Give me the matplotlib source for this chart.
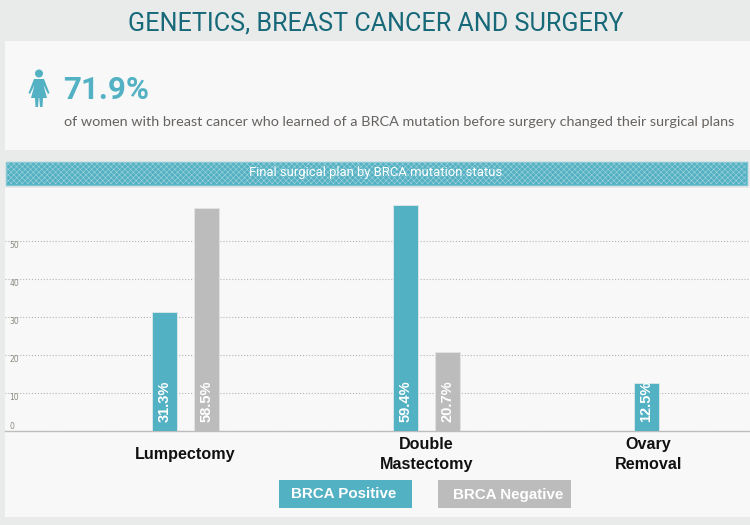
import matplotlib
matplotlib.use('Agg')
import matplotlib.pyplot as plt
from matplotlib.patches import Rectangle, Circle, Polygon

categories = ['Lumpectomy', 'Double\nMastectomy', 'Ovary\nRemoval']
positive = [31.3, 59.4, 12.5]
negative = [58.5, 20.7, None]
yticks = [0, 10, 20, 30, 40, 50]

TEAL = '#52b1c3'
GREY = '#bcbcbc'
BOLD = 'Liberation Sans'
W, H = 750, 525

fig = plt.figure(figsize=(7.5, 5.25), dpi=100, facecolor='#e9ebea')

# background layer in pixel coordinates
bg = fig.add_axes([0, 0, 1, 1])
bg.set_xlim(0, W)
bg.set_ylim(H, 0)
bg.axis('off')
bg.add_patch(Rectangle((5, 41), 745, 109, fc='#f8f8f8', ec='none'))
bg.add_patch(Rectangle((5, 188), 745, 329, fc='#f8f8f8', ec='none'))
plt.rcParams['hatch.linewidth'] = 0.4
bg.add_patch(Rectangle((5.5, 161.5), 741, 23, fc=TEAL, ec='#7cc5d3', lw=1))
bg.add_patch(Rectangle((6, 162), 740, 22, fc='none', ec='#a5d3dc', lw=0, hatch='xxxxxx'))

bg.text(376, 23, 'GENETICS, BREAST CANCER AND SURGERY', ha='center', va='center',
        fontsize=18.1, color='#17697a', family='Roboto', fontweight='normal')
bg.text(63, 90, '71.9%', ha='left', va='center', fontsize=22.5, color=TEAL,
        family='Roboto', fontweight='bold')
bg.text(64, 122, 'of women with breast cancer who learned of a BRCA mutation before surgery changed their surgical plans',
        ha='left', va='center', fontsize=10.35, color='#666260', family='Lato')
bg.text(376, 172.5, 'Final surgical plan by BRCA mutation status', ha='center', va='center',
        fontsize=9.4, color='white', family='Roboto')

# woman icon
bg.add_patch(Circle((39, 73.5), 4, fc=TEAL, ec='none'))
bg.add_patch(Polygon([(34, 79), (44, 79), (49.5, 93), (48, 94), (43.5, 85), (47, 98), (43, 98),
                      (42.5, 107), (40, 107), (39.3, 98), (38.7, 98), (38, 107), (35.5, 107),
                      (35, 98), (31, 98), (34.5, 85), (30, 94), (28.5, 93)], fc=TEAL, ec='none'))

# chart
ax = fig.add_axes([5 / W, 1 - 431 / H, 745 / W, 243 / H])
ax.patch.set_alpha(0)
x = list(range(len(categories)))
offset = 0.087
width = 0.104
for i in x:
    ax.bar(i - offset, positive[i], width, color=TEAL, ec='#dfe9eb', lw=0.6, zorder=3)
    ax.text(i - offset, 2.3, '%.1f%%' % positive[i], rotation=90, ha='center', va='bottom',
            color='white', fontsize=10.5, fontweight='bold', family=BOLD, zorder=4)
    if negative[i] is not None:
        ax.bar(i + offset, negative[i], width, color=GREY, ec='#e4e4e4', lw=0.6, zorder=3)
        ax.text(i + offset, 2.3, '%.1f%%' % negative[i], rotation=90, ha='center', va='bottom',
                color='white', fontsize=10.5, fontweight='bold', family=BOLD, zorder=4)

ax.set_xlim(-0.749, 2.342)
ax.set_ylim(0, 63.8)
ax.set_yticks(yticks)
ax.set_yticklabels([str(t) for t in yticks], fontsize=5.5, color='#8a8a80', ha='left')
ax.tick_params(axis='y', length=0, pad=-3)
for lab, t in zip(ax.get_yticklabels(), yticks):
    lab.set_verticalalignment('bottom' if t == 0 else 'top')
ax.grid(axis='y', color='#b5b5b5', ls=':', lw=0.8, zorder=1)
ax.set_xticks([0, 1, 1.92])
ax.set_xticklabels(categories, fontsize=11.6, fontweight='bold', family=BOLD,
                   color='#111111', linespacing=1.45, va='center')
ax.tick_params(axis='x', length=0, pad=17)
for s in ['top', 'right', 'left']:
    ax.spines[s].set_visible(False)
ax.spines['bottom'].set_color('#bdbdbd')
ax.spines['bottom'].set_linewidth(1)

# legend boxes
bg.add_patch(Rectangle((279, 480), 133, 28, fc=TEAL, ec='none'))
bg.add_patch(Rectangle((438, 480), 133, 28, fc=GREY, ec='none'))
bg.text(344, 494.5, 'BRCA Positive', ha='center', va='center', color='white', fontsize=10.9,
        fontweight='bold', family=BOLD)
bg.text(508, 494.5, 'BRCA Negative', ha='center', va='center', color='white', fontsize=10.9,
        fontweight='bold', family=BOLD)

fig.savefig('out.png', dpi=100, facecolor=fig.get_facecolor())
